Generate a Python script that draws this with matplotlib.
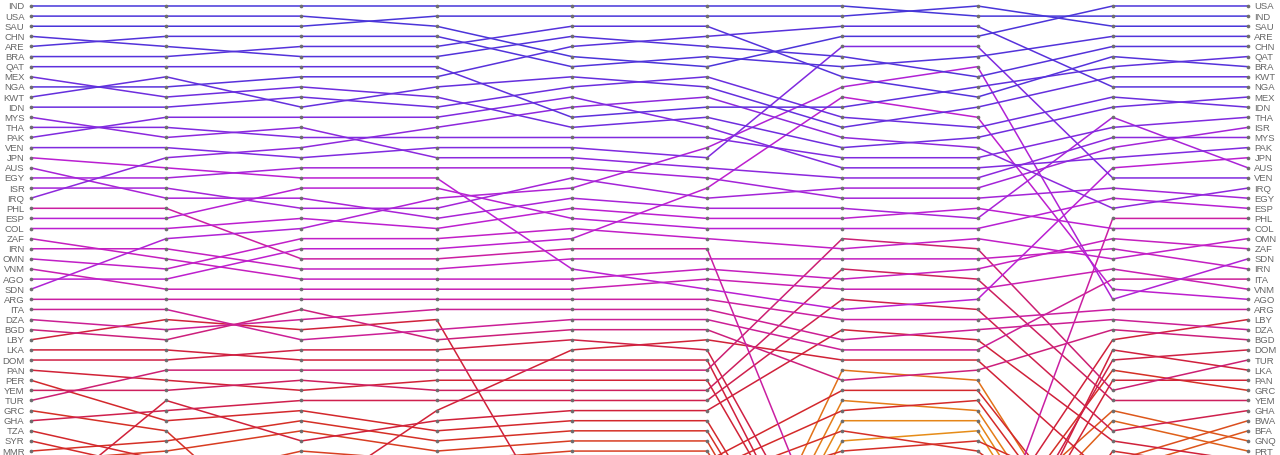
import matplotlib
matplotlib.use("Agg")
import matplotlib.pyplot as plt
from matplotlib.colors import LinearSegmentedColormap
import numpy as np

# rank order of each country, one list per column (first = rank 1)
col_0 = ["IND", "USA", "SAU", "CHN", "ARE", "BRA", "QAT", "MEX", "NGA", "KWT", "IDN", "MYS", "THA", "PAK", "VEN",
         "JPN", "AUS", "EGY", "ISR", "IRQ", "PHL", "ESP", "COL", "ZAF", "IRN", "OMN", "VNM", "AGO", "SDN", "ARG",
         "ITA", "DZA", "BGD", "LBY", "LKA", "DOM", "PAN", "PER", "YEM", "TUR", "GRC", "GHA", "TZA", "SYR", "MMR",
         "ETH", "CIV", "CMR", "SEN", "TUN", "KEN", "MAR", "JOR", "ECU", "BOL", "GTM", "BWA", "BFA", "GNQ", "PRT",
         "UZB", "KAZ", "NPL", "KHM", "AZE", "TKM", "GAB", "COG"]
col_1 = ["IND", "USA", "SAU", "ARE", "CHN", "BRA", "QAT", "KWT", "NGA", "MEX", "IDN", "PAK", "THA", "MYS", "VEN",
         "IRQ", "JPN", "EGY", "ISR", "AUS", "PHL", "ESP", "COL", "SDN", "IRN", "ZAF", "OMN", "AGO", "VNM", "ARG",
         "ITA", "LBY", "DZA", "BGD", "LKA", "DOM", "TUR", "PAN", "YEM", "KEN", "GHA", "PER", "GRC", "MMR", "ETH",
         "TZA", "SYR", "CIV", "CMR", "SEN", "TUN", "MAR", "JOR", "ECU", "BOL", "GTM", "BWA", "BFA", "GNQ", "PRT",
         "UZB", "KAZ", "NPL", "KHM", "AZE", "TKM", "GAB", "COG"]
col_2 = ["IND", "USA", "SAU", "ARE", "BRA", "CHN", "QAT", "NGA", "MEX", "IDN", "KWT", "PAK", "MYS", "THA", "IRQ",
         "VEN", "EGY", "JPN", "ESP", "AUS", "ISR", "COL", "SDN", "OMN", "AGO", "PHL", "IRN", "ZAF", "VNM", "ARG",
         "BGD", "DZA", "LBY", "ITA", "DOM", "LKA", "TUR", "YEM", "PAN", "GHA", "PER", "MMR", "ETH", "KEN", "CIV",
         "TZA", "SYR", "CMR", "TUN", "SEN", "MAR", "JOR", "ECU", "BOL", "GRC", "GTM", "BWA", "BFA", "GNQ", "PRT",
         "UZB", "KAZ", "NPL", "KHM", "AZE", "TKM", "GAB", "COG"]
col_3 = ["IND", "SAU", "USA", "ARE", "BRA", "CHN", "QAT", "NGA", "KWT", "MEX", "IDN", "PAK", "IRQ", "THA", "VEN",
         "MYS", "EGY", "JPN", "ESP", "SDN", "ISR", "AUS", "COL", "OMN", "AGO", "PHL", "IRN", "ZAF", "VNM", "ARG",
         "DZA", "LBY", "ITA", "BGD", "DOM", "LKA", "TUR", "PAN", "YEM", "GHA", "SEN", "KEN", "PER", "MMR", "ETH",
         "CIV", "TZA", "SYR", "CMR", "TUN", "MAR", "JOR", "ECU", "BOL", "GRC", "GTM", "BWA", "BFA", "GNQ", "PRT",
         "UZB", "KAZ", "NPL", "KHM", "AZE", "TKM", "GAB", "COG"]
col_4 = ["IND", "SAU", "BRA", "CHN", "NGA", "USA", "ARE", "KWT", "IDN", "PAK", "IRQ", "QAT", "MEX", "THA", "VEN",
         "MYS", "EGY", "ISR", "SDN", "AUS", "COL", "ESP", "OMN", "AGO", "PHL", "IRN", "JPN", "ZAF", "VNM", "ARG",
         "DZA", "ITA", "BGD", "DOM", "SEN", "LKA", "TUR", "PAN", "YEM", "GHA", "KEN", "PER", "MMR", "ETH", "CIV",
         "TZA", "SYR", "CMR", "TUN", "MAR", "JOR", "ECU", "BOL", "GRC", "LBY", "GTM", "BWA", "BFA", "GNQ", "PRT",
         "UZB", "KAZ", "NPL", "KHM", "AZE", "TKM", "GAB", "COG"]
col_5 = ["IND", "SAU", "BRA", "NGA", "CHN", "ARE", "USA", "IDN", "KWT", "IRQ", "QAT", "MEX", "PAK", "THA", "SDN",
         "VEN", "MYS", "EGY", "AGO", "ISR", "AUS", "COL", "ESP", "OMN", "PHL", "IRN", "ZAF", "VNM", "JPN", "ARG",
         "DZA", "ITA", "BGD", "SEN", "DOM", "LKA", "TUR", "PAN", "YEM", "GHA", "KEN", "PER", "MMR", "ETH", "CIV",
         "TZA", "SYR", "CMR", "TUN", "MAR", "JOR", "ECU", "BOL", "GRC", "LBY", "GTM", "BWA", "BFA", "GNQ", "PRT",
         "UZB", "KAZ", "NPL", "KHM", "AZE", "TKM", "GAB", "COG"]
col_6 = ["IND", "SAU", "NGA", "USA", "VEN", "CHN", "ARE", "BRA", "SDN", "AGO", "QAT", "IDN", "KWT", "IRQ", "MEX",
         "THA", "PAK", "MYS", "ISR", "EGY", "AUS", "COL", "ESP", "TUR", "OMN", "IRN", "YEM", "ZAF", "VNM", "GHA",
         "JPN", "ARG", "KEN", "DZA", "ITA", "SEN", "AZE", "BGD", "TZA", "TKM", "SYR", "GAB", "CMR", "COG", "TUN",
         "MAR", "JOR", "ECU", "BOL", "GTM", "BWA", "BFA", "GNQ", "LBY", "GRC", "PRT", "UZB", "PHL", "DOM", "KAZ",
         "PAN", "LKA", "NPL", "PER", "MMR", "CIV", "ETH", "KHM"]
col_7 = ["SAU", "IND", "NGA", "USA", "VEN", "ARE", "SDN", "CHN", "QAT", "BRA", "KWT", "AGO", "IDN", "MEX", "IRQ",
         "THA", "PAK", "MYS", "ISR", "EGY", "COL", "AUS", "ESP", "OMN", "TUR", "IRN", "ZAF", "YEM", "VNM", "JPN",
         "GHA", "ARG", "DZA", "KEN", "ITA", "SEN", "BGD", "AZE", "TZA", "SYR", "TKM", "GAB", "COG", "TUN", "CMR",
         "MAR", "JOR", "ECU", "BOL", "GTM", "BWA", "BFA", "GNQ", "LBY", "GRC", "PRT", "UZB", "PHL", "DOM", "KAZ",
         "PAN", "LKA", "NPL", "PER", "MMR", "CIV", "ETH", "KHM"]
col_8 = ["USA", "IND", "SAU", "ARE", "CHN", "BRA", "QAT", "KWT", "NGA", "IDN", "MEX", "AUS", "THA", "MYS", "ISR",
         "PAK", "JPN", "VEN", "EGY", "ESP", "IRQ", "PHL", "COL", "ZAF", "IRN", "OMN", "VNM", "ITA", "AGO", "SDN",
         "ARG", "DZA", "BGD", "LBY", "LKA", "DOM", "GRC", "PAN", "TUR", "YEM", "GNQ", "PRT", "GHA", "KEN", "PER",
         "BWA", "BFA", "SEN", "MMR", "TUN", "CIV", "MAR", "ETH", "JOR", "CMR", "TZA", "ECU", "SYR", "AZE", "BOL",
         "TKM", "GTM", "GAB", "COG", "UZB", "KAZ", "NPL", "KHM"]
col_9 = ["USA", "IND", "SAU", "ARE", "CHN", "QAT", "BRA", "KWT", "NGA", "MEX", "IDN", "THA", "ISR", "MYS", "PAK",
         "JPN", "AUS", "VEN", "IRQ", "EGY", "ESP", "PHL", "COL", "OMN", "ZAF", "SDN", "IRN", "ITA", "VNM", "AGO",
         "ARG", "LBY", "DZA", "BGD", "DOM", "TUR", "LKA", "PAN", "GRC", "YEM", "GHA", "BWA", "BFA", "GNQ", "PRT",
         "KEN", "PER", "SEN", "MMR", "TUN", "CIV", "MAR", "ETH", "JOR", "CMR", "TZA", "ECU", "SYR", "AZE", "BOL",
         "TKM", "GTM", "GAB", "COG", "UZB", "KAZ", "NPL", "KHM"]

columns = [col_0, col_1, col_2, col_3, col_4, col_5, col_6, col_7, col_8, col_9]
n_shown = 45  # ranks visible in the picture

countries = col_0
for col in columns:
    if sorted(col) != sorted(countries):
        raise ValueError("column is not a permutation")

ranks = {c: [col.index(c) + 1 for col in columns] for c in countries}

# colour by average rank: blue at the top, magenta, crimson, red, orange further down
stops = [1, 8, 13, 17, 22, 28, 32, 36, 41, 48, 55, 62, 70]
hexes = ["#4536d8", "#5c30dc", "#7a2be0", "#9c26da", "#bb1fd2", "#c81fb8", "#cb1f95", "#cd1f64",
         "#d0203c", "#d42a28", "#de5a1a", "#e68a18", "#eab020"]
cmap = LinearSegmentedColormap.from_list(
    "bump", [((s - stops[0]) / (stops[-1] - stops[0]), h) for s, h in zip(stops, hexes)])

fig = plt.figure(figsize=(12.8, 4.56), dpi=100)
ax = fig.add_axes([0, 0, 1, 1])

order = sorted(countries, key=lambda c: -np.mean(ranks[c]))
for c in order:
    r = ranks[c]
    t = (np.mean(r) - stops[0]) / (stops[-1] - stops[0])
    ax.plot(range(len(columns)), r, color=cmap(min(t, 1.0)), lw=1.1, zorder=2, solid_joinstyle="round")

for i, col in enumerate(columns):
    ax.scatter([i] * len(col), range(1, len(col) + 1), s=7, color="#6e6e6e", zorder=3, linewidths=0)

for i, c in enumerate(col_0[:n_shown]):
    ax.text(-0.048, i + 1, c, ha="right", va="center", fontsize=6.8, color="#666666", family="Liberation Sans")
for i, c in enumerate(col_9[:n_shown]):
    ax.text(len(columns) - 1 + 0.048, i + 1, c, ha="left", va="center", fontsize=6.8, color="#666666",
            family="Liberation Sans")

ax.set_xlim(-0.2293, 9.237)
ax.set_ylim(45.39, 0.308)
ax.axis("off")
fig.savefig("out.png", dpi=100)
